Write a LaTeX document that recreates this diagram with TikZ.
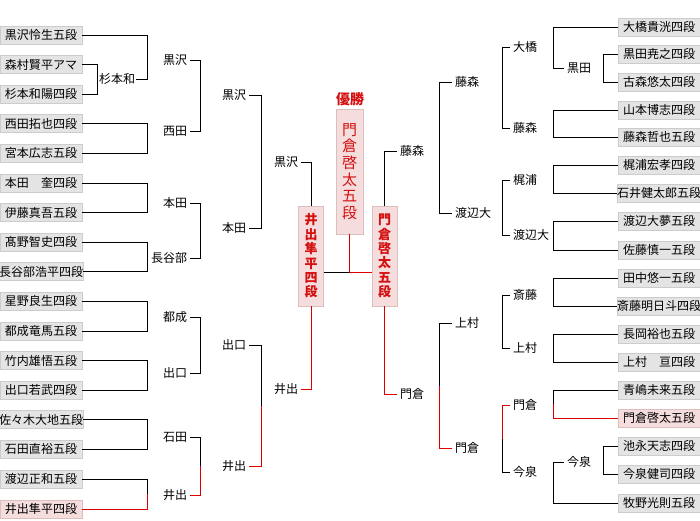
\documentclass[tikz,border=0pt]{standalone}
\usepackage{fontspec}
\setmainfont{Noto Sans CJK JP}
\usetikzlibrary{calc}
\definecolor{boxfill}{RGB}{228,228,228}
\definecolor{boxline}{RGB}{204,204,204}
\definecolor{winfill}{RGB}{245,221,221}
\definecolor{winline}{RGB}{221,190,190}
\definecolor{winred}{RGB}{222,0,0}
\definecolor{txtred}{RGB}{212,16,16}
\newcommand\jfs{\fontsize{12}{14}\selectfont}
\begin{document}
\begin{tikzpicture}[x=1pt,y=-1pt,
  pbox/.style={draw=boxline, fill=boxfill, minimum width=82pt, minimum height=18pt, inner sep=0pt, font=\jfs, line width=0.8pt},
  wbox/.style={pbox, draw=winline, fill=winfill},
  lbl/.style={inner sep=0pt, outer xsep=3pt, font=\jfs},
  ln/.style={line width=1pt, black},
  rl/.style={line width=1pt, winred}]
\useasboundingbox (0,0) rectangle (700,520);
% column x positions
\coordinate (xl1) at (97.5,0);
\coordinate (xl2) at (147.5,0);
\coordinate (xl3) at (200,0);
\coordinate (xl4) at (261,0);
\coordinate (xr2) at (553,0);
\coordinate (xr15) at (603,0);
\coordinate (xr3) at (502,0);
\coordinate (xr4) at (439,0);
% left players
\node[pbox] (L1) at (41,35) {黒沢怜生五段};
\node[pbox] (L2) at (41,64.6) {森村賢平アマ};
\node[pbox] (L3) at (41,94.2) {杉本和陽四段};
\node[pbox] (L4) at (41,123.8) {西田拓也四段};
\node[pbox] (L5) at (41,153.4) {宮本広志五段};
\node[pbox] (L6) at (41,183) {本田　奎四段};
\node[pbox] (L7) at (41,212.6) {伊藤真吾五段};
\node[pbox] (L8) at (41,242.2) {髙野智史四段};
\node[pbox] (L9) at (41,271.8) {長谷部浩平四段};
\node[pbox] (L10) at (41,301.4) {星野良生四段};
\node[pbox] (L11) at (41,331) {都成竜馬五段};
\node[pbox] (L12) at (41,360.6) {竹内雄悟五段};
\node[pbox] (L13) at (41,390.2) {出口若武四段};
\node[pbox] (L14) at (41,419.8) {佐々木大地五段};
\node[pbox] (L15) at (41,449.4) {石田直裕五段};
\node[pbox] (L16) at (41,479) {渡辺正和五段};
\node[wbox] (L17) at (41,509) {井出隼平四段};
% right players
\node[pbox] (R1) at (659,27) {大橋貴洸四段};
\node[pbox] (R2) at (659,54) {黒田尭之四段};
\node[pbox] (R3) at (659,82) {古森悠太四段};
\node[pbox] (R4) at (659,110) {山本博志四段};
\node[pbox] (R5) at (659,137) {藤森哲也五段};
\node[pbox] (R6) at (659,165) {梶浦宏孝四段};
\node[pbox] (R7) at (659,193) {石井健太郎五段};
\node[pbox] (R8) at (659,221) {渡辺大夢五段};
\node[pbox] (R9) at (659,250) {佐藤慎一五段};
\node[pbox] (R10) at (659,278) {田中悠一五段};
\node[pbox] (R11) at (659,306) {斎藤明日斗四段};
\node[pbox] (R12) at (659,334) {長岡裕也五段};
\node[pbox] (R13) at (659,362) {上村　亘四段};
\node[pbox] (R14) at (659,390) {青嶋未来五段};
\node[wbox] (R15) at (659,418) {門倉啓太五段};
\node[pbox] (R16) at (659,446) {池永天志四段};
\node[pbox] (R17) at (659,474) {今泉健司四段};
\node[pbox] (R18) at (659,503) {牧野光則五段};
% left labels
\node[lbl, outer xsep=1pt, anchor=west] (sg) at (98,79.4) {杉本和};
\node[lbl, anchor=east] (a1) at (190,60) {黒沢};
\node[lbl, anchor=east] (a2) at (190,131) {西田};
\node[lbl, anchor=east] (a3) at (190,203) {本田};
\node[lbl, anchor=east] (a4) at (190,258) {長谷部};
\node[lbl, anchor=east] (a5) at (190,317) {都成};
\node[lbl, anchor=east] (a6) at (190,373) {出口};
\node[lbl, anchor=east] (a7) at (190,437) {石田};
\node[lbl, anchor=east] (a8) at (190,495) {井出};
\node[lbl, anchor=east] (b1) at (249,95) {黒沢};
\node[lbl, anchor=east] (b2) at (249,228) {本田};
\node[lbl, anchor=east] (b3) at (249,345) {出口};
\node[lbl, anchor=east] (b4) at (249,466) {井出};
\node[lbl, anchor=east] (c1) at (301,162) {黒沢};
\node[lbl, anchor=east] (c2) at (301,389) {井出};
% right labels
\node[lbl, anchor=west] (d1) at (397,151) {藤森};
\node[lbl, anchor=west] (d2) at (397,394) {門倉};
\node[lbl, anchor=west] (e1) at (452,82) {藤森};
\node[lbl, anchor=west] (e2) at (452,213) {渡辺大};
\node[lbl, anchor=west] (e3) at (452,323) {上村};
\node[lbl, anchor=west] (e4) at (452,448) {門倉};
\node[lbl, anchor=west] (f1) at (510,47) {大橋};
\node[lbl, anchor=west] (f2) at (510,128) {藤森};
\node[lbl, anchor=west] (f3) at (510,180) {梶浦};
\node[lbl, anchor=west] (f4) at (510,235) {渡辺大};
\node[lbl, anchor=west] (f5) at (510,295) {斎藤};
\node[lbl, anchor=west] (f6) at (510,348) {上村};
\node[lbl, anchor=west] (f7) at (510,405) {門倉};
\node[lbl, anchor=west] (f8) at (510,472) {今泉};
\node[lbl, anchor=west] (g1) at (564,68) {黒田};
\node[lbl, anchor=west] (g2) at (564,462) {今泉};
% semifinal and champion boxes
\node[wbox, minimum width=25pt, minimum height=100pt, text=txtred, align=center, font=\fontsize{13}{14.4}\selectfont\bfseries] (S1) at (311,256) {井\\出\\隼\\平\\四\\段};
\node[wbox, minimum width=25pt, minimum height=100pt, text=txtred, align=center, font=\fontsize{13}{14.4}\selectfont\bfseries] (S2) at (384.5,256) {門\\倉\\啓\\太\\五\\段};
\node[wbox, minimum width=27pt, minimum height=125pt, text=txtred, align=center, font=\fontsize{15}{16.6}\selectfont] (W) at (349.5,171.5) {門\\倉\\啓\\太\\五\\段};
\node[inner sep=0pt, text=txtred, font=\fontsize{14}{16}\selectfont\bfseries] (yu) at (350,99) {優勝};
% ---- left connectors
\draw[ln] (L2.east) -| (xl1 |- L3) -- (L3.east);
\draw[ln] (L1.east) -| (xl2 |- sg) -- (sg.east);
\draw[ln] (L4.east) -| (xl2 |- L5) -- (L5.east);
\draw[ln] (L6.east) -| (xl2 |- L7) -- (L7.east);
\draw[ln] (L8.east) -| (xl2 |- L9) -- (L9.east);
\draw[ln] (L10.east) -| (xl2 |- L11) -- (L11.east);
\draw[ln] (L12.east) -| (xl2 |- L13) -- (L13.east);
\draw[ln] (L14.east) -| (xl2 |- L15) -- (L15.east);
\coordinate (m1) at ($(xl2 |- L16)!0.5!(xl2 |- L17)$);
\draw[ln] (L16.east) -| (m1);
\draw[rl] (L17.east) -| (m1);
\draw[ln] (a1.east) -| (xl3 |- a2) -- (a2.east);
\draw[ln] (a3.east) -| (xl3 |- a4) -- (a4.east);
\draw[ln] (a5.east) -| (xl3 |- a6) -- (a6.east);
\coordinate (m2) at ($(xl3 |- a7)!0.5!(xl3 |- a8)$);
\draw[ln] (a7.east) -| (m2);
\draw[rl] (a8.east) -| (m2);
\draw[ln] (b1.east) -| (xl4 |- b2) -- (b2.east);
\coordinate (m3) at ($(xl4 |- b3)!0.5!(xl4 |- b4)$);
\draw[ln] (b3.east) -| (m3);
\draw[rl] (b4.east) -| (m3);
\draw[ln] (c1.east) -| (S1.north);
\draw[rl] (c2.east) -| (S1.south);
% ---- right connectors
\draw[ln] (R1.west) -| (xr2 |- g1) -- (g1.west);
\draw[ln] (R2.west) -| (xr15 |- R3) -- (R3.west);
\draw[ln] (R4.west) -| (xr2 |- R5) -- (R5.west);
\draw[ln] (R6.west) -| (xr2 |- R7) -- (R7.west);
\draw[ln] (R8.west) -| (xr2 |- R9) -- (R9.west);
\draw[ln] (R10.west) -| (xr2 |- R11) -- (R11.west);
\draw[ln] (R12.west) -| (xr2 |- R13) -- (R13.west);
\coordinate (m4) at ($(xr2 |- R14)!0.5!(xr2 |- R15)$);
\draw[ln] (R14.west) -| (m4);
\draw[rl] (R15.west) -| (m4);
\draw[ln] (R16.west) -| (xr15 |- R17) -- (R17.west);
\draw[ln] (g2.west) -| (xr2 |- R18) -- (R18.west);
\draw[ln] (f1.west) -| (xr3 |- f2) -- (f2.west);
\draw[ln] (f3.west) -| (xr3 |- f4) -- (f4.west);
\draw[ln] (f5.west) -| (xr3 |- f6) -- (f6.west);
\coordinate (m5) at ($(xr3 |- f7)!0.5!(xr3 |- f8)$);
\draw[rl] (f7.west) -| (m5);
\draw[ln] (f8.west) -| (m5);
\draw[ln] (e1.west) -| (xr4 |- e2) -- (e2.west);
\coordinate (m6) at ($(xr4 |- e3)!0.5!(xr4 |- e4)$);
\draw[ln] (e3.west) -| (m6);
\draw[rl] (e4.west) -| (m6);
\draw[ln] (d1.west) -| (S2.north);
\draw[rl] (d2.west) -| (S2.south);
% ---- final
\coordinate (fj) at ($(W.south)+(0,38)$);
\draw[ln] (fj -| S1.east) -- (fj);
\draw[rl] (W.south) -- (fj) -- (fj -| S2.west);
\end{tikzpicture}
\end{document}
